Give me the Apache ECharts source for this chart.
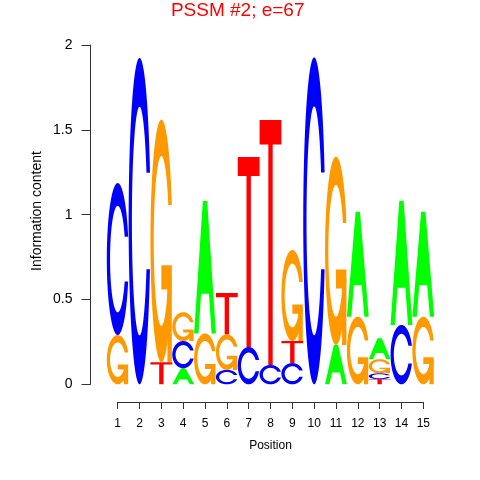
<!DOCTYPE html>
<html>
<head>
<meta charset="utf-8">
<script src="https://cdn.jsdelivr.net/npm/echarts@6/dist/echarts.min.js"></script>
<style>html,body{margin:0;padding:0;background:#fff}#c{width:480px;height:480px}</style>
</head>
<body>
<div id="c"></div>
<script>
// ---- data (information content per letter at each position) ----
const positions = [1, 2, 3, 4, 5, 6, 7, 8, 9, 10, 11, 12, 13, 14, 15];
const letters = ['A', 'C', 'G', 'T'];
const heightA = [0, 0, 0, 0.095, 0.78, 0, 0, 0, 0, 0, 0.232, 0.619, 0.124, 0.732, 0.619];
const heightC = [0.896, 1.924, 0, 0.16, 0, 0.085, 0.22, 0.114, 0.125, 1.927, 0, 0, 0.035, 0.35, 0];
const heightG = [0.29, 0, 1.43, 0.17, 0.30, 0.21, 0, 0, 0.537, 0, 1.11, 0.398, 0.083, 0, 0.398];
const heightT = [0, 0, 0.13, 0, 0, 0.243, 1.12, 1.444, 0.13, 0, 0, 0, 0.03, 0, 0];
const yTicks = [0, 0.5, 1, 1.5, 2];
const titleText = 'PSSM #2; e=67';
const xName = 'Position';
const yName = 'Information content';

const letterColors = { A: '#00FF00', C: '#0000FF', G: '#FF9900', T: '#FF0000' };
const FONT = '"Liberation Sans", Arial, Helvetica, sans-serif';

// ---- letter glyph polygons in unit square (y up) ----
function seq(a, b, n) { const r = []; for (let i = 0; i < n; i++) r.push(a + (b - a) * i / (n - 1)); return r; }
function ringPoly() {
  const a1 = seq(0.3 + Math.PI / 2, Math.PI, 100);
  const a2 = seq(Math.PI, 1.5 * Math.PI, 100);
  const xl1 = a1.map(a => 0.5 + 0.5 * Math.sin(a)), yl1 = a1.map(a => 0.5 + 0.5 * Math.cos(a));
  const xl2 = a2.map(a => 0.5 + 0.5 * Math.sin(a)), yl2 = a2.map(a => 0.5 + 0.5 * Math.cos(a));
  const xl = xl1.concat(xl2), yl = yl1.concat(yl2);
  const x = xl.concat(xl.slice().reverse());
  const y = yl.concat(yl.slice().reverse().map(v => 1 - v));
  const maxY = Math.max.apply(null, yl1);
  let xi1 = a1.map(a => 0.5 + 0.35 * Math.sin(a)), yi1 = a1.map(a => 0.5 + 0.35 * Math.cos(a));
  const keep = yi1.map(v => v <= maxY);
  xi1 = xi1.filter((v, i) => keep[i]); yi1 = yi1.filter((v, i) => keep[i]);
  yi1[0] = maxY;
  const xi2 = a2.map(a => 0.5 + 0.35 * Math.sin(a)), yi2 = a2.map(a => 0.5 + 0.35 * Math.cos(a));
  const xi = xi1.concat(xi2), yi = yi1.concat(yi2);
  const x1 = xi.concat(xi.slice().reverse());
  const y1 = yi.concat(yi.slice().reverse().map(v => 1 - v));
  const px = x.concat(x1.slice().reverse()), py = y.concat(y1.slice().reverse());
  return { poly: px.map((v, i) => [v, py[i]]), r1: Math.max.apply(null, xl1) };
}
const ring = ringPoly();
const glyphs = {
  A: [
    [[0, 0], [0.4, 1], [0.6, 1], [1, 0], [0.8, 0], [0.68, 0.3], [0.32, 0.3], [0.2, 0]],
    [[0.36, 0.4], [0.64, 0.4], [0.5, 0.75]]
  ],
  C: [ring.poly],
  G: [ring.poly, [[ring.r1, 0.4], [0.5, 0.4], [0.5, 0.3], [ring.r1 - 0.2, 0.3], [ring.r1 - 0.2, 0], [ring.r1, 0]]],
  T: [[[0, 1], [1, 1], [1, 0.9], [0.6, 0.9], [0.6, 0], [0.4, 0], [0.4, 0.9], [0, 0.9]]]
};

// ---- stack letters: smallest at bottom ----
const heights = { A: heightA, C: heightC, G: heightG, T: heightT };
const stackData = [];
positions.forEach((p, i) => {
  const col = letters.map((L, li) => ({ L, li, h: heights[L][i] })).filter(d => d.h > 0);
  col.sort((a, b) => a.h - b.h);
  let base = 0;
  col.forEach(d => { stackData.push([p, base, base + d.h, d.li]); base += d.h; });
});

function renderItem(params, api) {
  const p = api.value(0), y0 = api.value(1), y1 = api.value(2), li = api.value(3);
  const L = letters[li];
  const bl = api.coord([p - 0.5, y0]);
  const tr = api.coord([p + 0.5, y1]);
  const w = tr[0] - bl[0], h = bl[1] - tr[1];
  const children = glyphs[L].map(poly => {
    let d = '';
    poly.forEach((pt, k) => {
      const X = bl[0] + pt[0] * w, Y = bl[1] - pt[1] * h;
      d += (k === 0 ? 'M' : 'L') + X.toFixed(2) + ' ' + Y.toFixed(2) + ' ';
    });
    d += 'Z';
    return { type: 'path', shape: { pathData: d }, style: { fill: letterColors[L], stroke: null } };
  });
  return { type: 'group', children };
}

const chart = echarts.init(document.getElementById('c'), null, { renderer: 'canvas' });
chart.setOption({
  animation: false,
  backgroundColor: '#fff',
  grid: [
    { left: 106.8, right: 45.8, top: 45, bottom: 95.7 },
    { left: 117.7, right: 56.7, top: 350, bottom: 78 }
  ],
  xAxis: [
    { gridIndex: 0, type: 'value', min: 0.5, max: 15.5, show: false },
    {
      gridIndex: 1, type: 'value', min: 1, max: 15, interval: 1,
      axisLine: { show: true, lineStyle: { color: '#333', width: 1 } },
      axisTick: { show: true, length: 7, lineStyle: { color: '#333' } },
      axisLabel: { fontSize: 12, color: '#000', margin: 16, fontFamily: FONT },
      splitLine: { show: false }
    }
  ],
  yAxis: [
    {
      gridIndex: 0, type: 'value', min: yTicks[0], max: yTicks[yTicks.length - 1], interval: 0.5,
      offset: 16.3,
      axisLine: { show: true, lineStyle: { color: '#333', width: 1 } },
      axisTick: { show: true, length: 9, lineStyle: { color: '#333' } },
      axisLabel: { fontSize: 14, color: '#000', margin: 18, fontFamily: FONT },
      splitLine: { show: false }
    },
    { gridIndex: 1, type: 'value', show: false }
  ],
  graphic: [
    { type: 'text', x: 237.7, y: 10.5, style: { text: titleText, fill: '#FF0000', font: '19px ' + FONT, textAlign: 'center', textVerticalAlign: 'middle' } },
    { type: 'text', x: 270.5, y: 446, style: { text: xName, fill: '#000', font: '12px ' + FONT, textAlign: 'center', textVerticalAlign: 'middle' } },
    { type: 'text', x: 36.7, y: 211, rotation: Math.PI / 2, style: { text: yName, fill: '#000', font: '14px ' + FONT, textAlign: 'center', textVerticalAlign: 'middle' } }
  ],
  series: [{
    type: 'custom',
    xAxisIndex: 0, yAxisIndex: 0,
    renderItem,
    clip: false,
    encode: { x: 0, y: [1, 2] },
    data: stackData
  }]
});
</script>
</body>
</html>
